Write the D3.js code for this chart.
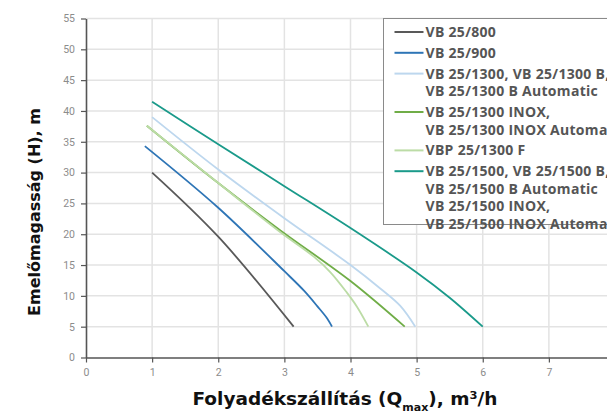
<!DOCTYPE html>
<html>
<head>
<meta charset="utf-8">
<script src="https://cdn.jsdelivr.net/npm/d3@7"></script>
<style>
  body { margin: 0; background: #fff; }
  svg { display: block; }
</style>
</head>
<body>
<div id="chart"></div>
<script>
// Flow (m3/h) and head (m), one pair of arrays per pump
const qVB800 = [1.0, 2.0, 3.14];
const hVB800 = [30, 19.6, 5];

const qVB900 = [0.89, 2.0, 3.0, 3.3, 3.5, 3.65, 3.72];
const hVB900 = [34.3, 24.3, 14.0, 10.8, 8.3, 6.3, 5];

const qVB1300 = [1.0, 2.0, 3.0, 4.0, 4.45, 4.75, 4.98];
const hVB1300 = [39, 30.5, 22.6, 15.0, 11.2, 8.4, 5];

const qInox = [0.92, 2.0, 2.93, 4.0, 4.82];
const hInox = [37.6, 28.3, 20.7, 12.4, 5];

const qVBP = [0.92, 2.0, 2.93, 3.44, 3.69, 3.94, 4.1, 4.27];
const hVBP = [37.6, 28.3, 20.4, 16.4, 13.9, 10.6, 8.2, 5];

const qVB1500 = [1.0, 2.0, 3.0, 4.0, 5.0, 5.5, 6.0];
const hVB1500 = [41.5, 34.6, 27.8, 21.0, 13.8, 9.7, 5];

const legendLabels = [
  ["VB 25/800"],
  ["VB 25/900"],
  ["VB 25/1300, VB 25/1300 B,", "VB 25/1300 B Automatic"],
  ["VB 25/1300 INOX,", "VB 25/1300 INOX Automatic"],
  ["VBP 25/1300 F"],
  ["VB 25/1500, VB 25/1500 B,", "VB 25/1500 B Automatic", "VB 25/1500 INOX,", "VB 25/1500 INOX Automatic"]
];
const colors = ["#595959", "#2e75b6", "#bdd7ee", "#70ad47", "#bcdca6", "#1a9a8a"];

const xTicks = [0, 1, 2, 3, 4, 5, 6, 7];
const yTicks = [0, 5, 10, 15, 20, 25, 30, 35, 40, 45, 50, 55];

const series = [
  [qVB800, hVB800], [qVB900, hVB900], [qVB1300, hVB1300],
  [qInox, hInox], [qVBP, hVBP], [qVB1500, hVB1500]
].map(([q, h], i) => ({
  color: colors[i],
  label: legendLabels[i],
  points: q.map((v, j) => ({ q: v, h: h[j] }))
}));

// Set the dimensions and margins (plot runs off the right edge like the original)
const margin = { top: 18.5, right: -8, bottom: 58.5, left: 86 },
  fullW = 607, fullH = 416,
  width = fullW - margin.left - margin.right,
  height = fullH - margin.top - margin.bottom;

const svg = d3.select("#chart").append("svg")
  .attr("width", fullW)
  .attr("height", fullH);

const g = svg.append("g")
  .attr("transform", `translate(${margin.left},${margin.top})`);

const x = d3.scaleLinear().domain([0, 8]).range([0, width]);
const y = d3.scaleLinear().domain([0, 55]).range([height, 0]);

// Grid
g.append("g").selectAll("line")
  .data(xTicks.filter((d) => d > 0))
  .join("line")
  .attr("x1", (d) => x(d)).attr("x2", (d) => x(d))
  .attr("y1", 0).attr("y2", height)
  .attr("stroke", "#e3e3e3").attr("stroke-width", 1.5);

g.append("g").selectAll("line")
  .data(yTicks.filter((d) => d > 0))
  .join("line")
  .attr("x1", 0).attr("x2", width)
  .attr("y1", (d) => y(d)).attr("y2", (d) => y(d))
  .attr("stroke", "#e3e3e3").attr("stroke-width", 1.5);

// Axes
const xAxis = g.append("g")
  .attr("transform", `translate(0,${height})`)
  .call(d3.axisBottom(x).tickValues(xTicks).tickSize(5).tickPadding(6).tickSizeOuter(0));
const yAxis = g.append("g")
  .call(d3.axisLeft(y).tickValues(yTicks).tickSize(5).tickPadding(6).tickSizeOuter(0));

[xAxis, yAxis].forEach((a) => {
  a.select(".domain").attr("stroke", "#555").attr("stroke-width", 1.6);
  a.selectAll(".tick line").attr("stroke", "#555").attr("stroke-width", 1.2);
  a.selectAll(".tick text")
    .attr("fill", "#8c8c8c")
    .style("font-family", "Roboto, sans-serif")
    .style("font-size", "10.5px");
});

// Curves
const line = d3.line()
  .x((d) => x(d.q))
  .y((d) => y(d.h))
  .curve(d3.curveCatmullRom.alpha(0.5));

g.selectAll(".curve")
  .data(series)
  .join("path")
  .attr("class", "curve")
  .attr("fill", "none")
  .attr("stroke", (d) => d.color)
  .attr("stroke-width", 1.8)
  .attr("d", (d) => line(d.points));

// Legend
const legend = svg.append("g").attr("transform", "translate(383.5,18.5)");
legend.append("rect")
  .attr("width", 240).attr("height", 206)
  .attr("fill", "#fff")
  .attr("stroke", "#8a8a8a").attr("stroke-width", 1);

const entryY = [];
let yy = 13.5;
series.forEach((s) => {
  entryY.push(yy);
  yy += s.label.length * 17.6 + 3.2;
});

series.forEach((s, i) => {
  const e = legend.append("g").attr("transform", `translate(0,${entryY[i]})`);
  e.append("line")
    .attr("x1", 11).attr("x2", 40)
    .attr("y1", 0).attr("y2", 0)
    .attr("stroke", s.color).attr("stroke-width", 2);
  s.label.forEach((t, k) => {
    e.append("text")
      .attr("x", 42)
      .attr("y", k * 17.6 + 5)
      .attr("fill", "#555")
      .style("font-family", "'Open Sans', sans-serif")
      .style("font-weight", 700)
      .style("font-size", "14px")
      .style("letter-spacing", "0.3px")
      .text(t);
  });
});

// Axis titles
svg.append("text")
  .attr("transform", "rotate(-90)")
  .attr("x", -212)
  .attr("y", 40)
  .style("text-anchor", "middle")
  .style("font-family", "'DejaVu Sans', sans-serif")
  .style("font-weight", 700)
  .style("font-size", "16px")
  .attr("fill", "#111")
  .text("Emelőmagasság (H), m");

const xt = svg.append("text")
  .attr("x", 345)
  .attr("y", 405)
  .style("text-anchor", "middle")
  .style("font-family", "'DejaVu Sans', sans-serif")
  .style("font-weight", 700)
  .style("font-size", "18.5px")
  .attr("fill", "#111");
xt.append("tspan").text("Folyadékszállítás (Q");
xt.append("tspan").attr("dy", 6).style("font-size", "11px").text("max");
xt.append("tspan").attr("dy", -6).text("), m³/h");
</script>
</body>
</html>
